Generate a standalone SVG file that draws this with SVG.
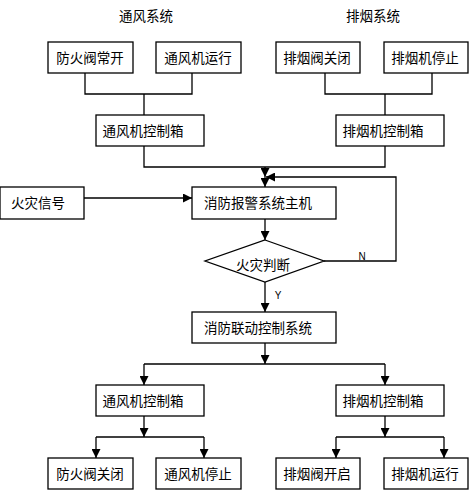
<svg xmlns="http://www.w3.org/2000/svg" width="471" height="491" viewBox="0 0 471 491">
<defs>
<style>
.box{fill:#fff;stroke:#000;stroke-width:1.3}
.t{font-family:"Noto Sans CJK SC","Liberation Sans",sans-serif;font-size:13.5px;fill:#000;text-anchor:middle}
.l{font-family:"Liberation Sans",sans-serif;font-size:10px;fill:#000;text-anchor:middle}
.c{fill:none;stroke:#000;stroke-width:1.3}
</style>
<marker id="a" markerUnits="userSpaceOnUse" markerWidth="9" markerHeight="9" refX="8" refY="4" orient="auto" viewBox="0 0 8 8">
<path d="M0,0 L8,4 L0,8 z" fill="#000"/>
</marker>
</defs>
<rect width="471" height="491" fill="#fff"/>
<g id="titles">
<text class="t" x="146" y="21">通风系统</text>
<text class="t" x="373" y="21">排烟系统</text>
</g>
<g id="connectors">
<path class="c" d="M85,73 V94 H192 V73 M144,94 V115"/>
<path class="c" d="M325,73 V94 H432 V73 M385,94 V115"/>
<path class="c" d="M144,146 V167 H385 V146"/>
<path class="c" d="M265,167 V177" marker-end="url(#a)"/>
<path class="c" d="M265,177 V187" marker-end="url(#a)"/>
<path class="c" d="M324,261 H396 V177 H266" marker-end="url(#a)"/>
<path class="c" d="M84,198 H192" marker-end="url(#a)"/>
<path class="c" d="M265,219 V240" marker-end="url(#a)"/>
<path class="c" d="M265,282 V312" marker-end="url(#a)"/>
<path class="c" d="M265,343 V364" marker-end="url(#a)"/>
<path class="c" d="M144,364 H385"/>
<path class="c" d="M144,364 V385" marker-end="url(#a)"/>
<path class="c" d="M385,364 V385" marker-end="url(#a)"/>
<path class="c" d="M144,416 V437" marker-end="url(#a)"/>
<path class="c" d="M96,437 H204"/>
<path class="c" d="M96,437 V458" marker-end="url(#a)"/>
<path class="c" d="M204,437 V458" marker-end="url(#a)"/>
<path class="c" d="M385,416 V437" marker-end="url(#a)"/>
<path class="c" d="M336,437 H444"/>
<path class="c" d="M336,437 V458" marker-end="url(#a)"/>
<path class="c" d="M444,437 V458" marker-end="url(#a)"/>
<text class="l" x="362" y="260">N</text>
<text class="l" x="278" y="299">Y</text>
</g>
<g id="n1"><rect class="box" x="48" y="42" width="85" height="31"/><text class="t" x="90" y="63">防火阀常开</text></g>
<g id="n2"><rect class="box" x="156" y="42" width="85" height="31"/><text class="t" x="198" y="63">通风机运行</text></g>
<g id="n3"><rect class="box" x="276" y="42" width="84" height="31"/><text class="t" x="317" y="63">排烟阀关闭</text></g>
<g id="n4"><rect class="box" x="384" y="42" width="84" height="31"/><text class="t" x="425" y="63">排烟机停止</text></g>
<g id="n5"><rect class="box" x="96" y="115" width="108" height="31"/><text class="t" x="143" y="136">通风机控制箱</text></g>
<g id="n6"><rect class="box" x="336" y="115" width="108" height="31"/><text class="t" x="383" y="136">排烟机控制箱</text></g>
<g id="n7"><rect class="box" x="0" y="187" width="84" height="32"/><text class="t" x="38" y="208">火灾信号</text></g>
<g id="n8"><rect class="box" x="192" y="187" width="144" height="32"/><text class="t" x="258" y="208">消防报警系统主机</text></g>
<g id="n9"><polygon class="box" points="265,240 324,261 265,282 205,261"/><text class="t" x="263" y="270">火灾判断</text></g>
<g id="n10"><rect class="box" x="192" y="312" width="144" height="31"/><text class="t" x="258" y="333">消防联动控制系统</text></g>
<g id="n11"><rect class="box" x="96" y="385" width="108" height="31"/><text class="t" x="143" y="406">通风机控制箱</text></g>
<g id="n12"><rect class="box" x="336" y="385" width="108" height="31"/><text class="t" x="383" y="406">排烟机控制箱</text></g>
<g id="n13"><rect class="box" x="48" y="458" width="85" height="31"/><text class="t" x="90" y="479">防火阀关闭</text></g>
<g id="n14"><rect class="box" x="156" y="458" width="85" height="31"/><text class="t" x="198" y="479">通风机停止</text></g>
<g id="n15"><rect class="box" x="276" y="458" width="84" height="31"/><text class="t" x="317" y="479">排烟阀开启</text></g>
<g id="n16"><rect class="box" x="384" y="458" width="84" height="31"/><text class="t" x="425" y="479">排烟机运行</text></g>
</svg>
